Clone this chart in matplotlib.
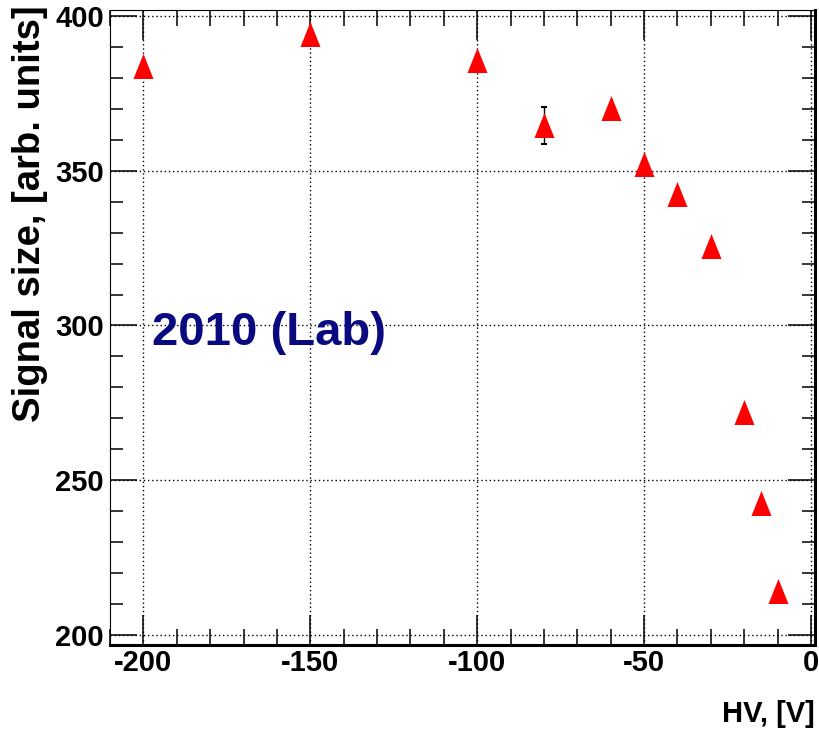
import numpy as np
import matplotlib.pyplot as plt
from matplotlib.ticker import MultipleLocator

plt.rcParams['font.family'] = ['Liberation Sans', 'DejaVu Sans']
plt.rcParams['font.weight'] = 'bold'
plt.rcParams['axes.labelweight'] = 'bold'
plt.rcParams['axes.unicode_minus'] = False

# HV scan of the signal size
hv = [-200, -150, -100, -80, -60, -50, -40, -30, -20, -15, -10]
signal = [383.8, 394.0, 385.8, 364.6, 370.3, 352.2, 342.6, 325.7, 272.0, 242.6, 214.2]
signal_err = [0, 0, 0, 6.0, 0, 0, 0, 0, 0, 0, 0]

W, H = 819, 734
fig = plt.figure(figsize=(W / 100, H / 100), dpi=100)
ax = fig.add_axes([110 / W, 1 - 645 / H, 705 / W, 635 / H])

# upward triangle, a bit taller than wide
tri = [(0, 1.25), (-1, -1.25), (1, -1.25), (0, 1.25)]
ax.errorbar(hv, signal, yerr=signal_err, fmt='none', ecolor='black',
            elinewidth=1.0, capsize=2.2, capthick=1.5, zorder=3)
ax.plot(hv, signal, linestyle='none', marker=tri, markersize=18,
        color='#ff0000', markeredgewidth=0, zorder=4)

ax.set_xlim(-210, 1.2)
ax.set_ylim(196.8, 401.9)

ax.xaxis.set_major_locator(MultipleLocator(50))
ax.xaxis.set_minor_locator(MultipleLocator(10))
ax.yaxis.set_major_locator(MultipleLocator(50))
ax.yaxis.set_minor_locator(MultipleLocator(10))

ax.tick_params(which='both', direction='in', top=True, right=True,
               color='black', width=1.1, labelsize=21)
ax.tick_params(axis='x', which='major', length=21.6, pad=3)
ax.tick_params(axis='x', which='minor', length=11.5)
ax.tick_params(axis='y', which='major', length=19.4, pad=4.3)
ax.tick_params(axis='y', which='minor', length=9.4)

ax.grid(True, which='major', color='black', linewidth=1.0,
        linestyle=(0, (1.0, 2.0)))
ax.set_axisbelow(True)

for side in ['left', 'top']:
    ax.spines[side].set_linewidth(0.8)
for side in ['bottom', 'right']:
    ax.spines[side].set_linewidth(2.2)

ax.set_xlabel('HV, [V]', fontsize=21, loc='right')
ax.xaxis.set_label_coords(1.0, -0.086)
ax.set_ylabel('Signal size, [arb. units]', fontsize=27.5, loc='top')
ax.yaxis.set_label_coords(-0.088, 1.008)

ax.text(-197.5, 297.5, '2010 (Lab)', fontsize=34, color='#0a0a80',
        fontweight='bold', va='center', ha='left')

fig.savefig('out.png', dpi=100)
